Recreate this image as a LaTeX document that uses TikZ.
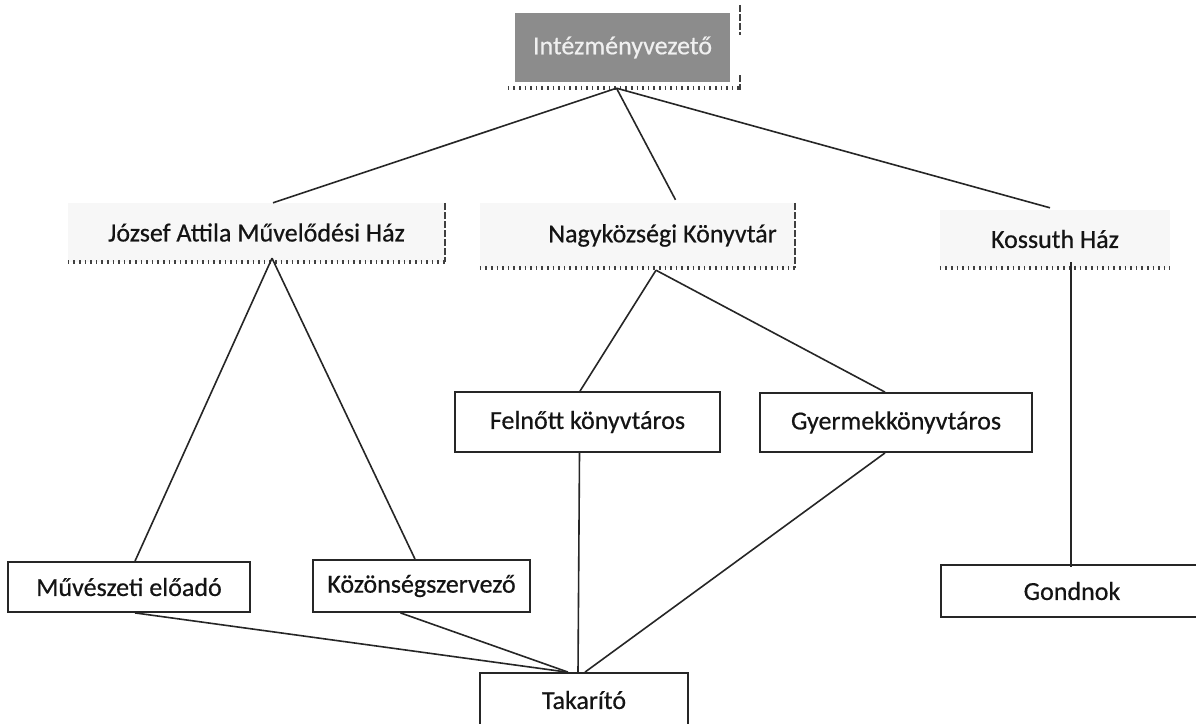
\documentclass[tikz,border=0pt]{standalone}
\usepackage{fontspec}
\setmainfont{Carlito}[FakeBold=0.5]
\usetikzlibrary{calc}
\begin{document}
\begin{tikzpicture}[x=1pt,y=-1pt,
  box/.style={draw=black!85, line width=1.8pt, fill=white, inner sep=0pt, font=\fontsize{26}{30}\selectfont, text=black!92},
  unit/.style={fill=gray!6, draw=none, inner sep=0pt, font=\fontsize{26}{30}\selectfont, text=black!92},
  head/.style={fill=black!45, draw=none, inner sep=0pt, font=\fontsize{26}{30}\selectfont, text=white!88!gray},
  link/.style={line width=1.6pt, draw=black!85},
  dots/.style={line width=4pt, dash pattern=on 1.6pt off 4pt, draw=black!75},
  edgemark/.style={line width=1.8pt, dash pattern=on 7pt off 2pt, draw=black!75}]
\useasboundingbox (0,0) rectangle (1196,723);
\clip (0,0) rectangle (1196,723);
\fill[white] (0,0) rectangle (1196,723);

% head
\node[head, minimum width=215pt, minimum height=69pt] (top) at (622.5,47.5) {Intézményvezető};
\draw[dots] ($(top.south west)+(-7,6)$) -- ($(top.south east)+(12,6)$);
\draw[edgemark] ($(top.north east)+(10,-8)$) -- ($(top.north east)+(10,22)$);
\draw[edgemark] ($(top.south east)+(10,-7)$) -- ($(top.south east)+(10,8)$);

% units
\node[unit, minimum width=377pt, minimum height=59pt] (jamh) at (256.5,232.5) {József Attila Művelődési Ház};
\node[unit, minimum width=315pt, minimum height=65pt] (nagy) at (637.5,235.5) {\hspace*{50pt}Nagyközségi Könyvtár};
\node[unit, minimum width=230pt, minimum height=58pt] (koss) at (1055,239) {Kossuth Ház};
\draw[dots] (jamh.south west) -- (jamh.south east);
\draw[dots] (nagy.south west) -- (nagy.south east);
\draw[dots] (koss.south west) -- (koss.south east);
\draw[edgemark] (jamh.north east) -- (jamh.south east);
\draw[edgemark] (nagy.north east) -- (nagy.south east);

% staff
\node[box, minimum width=265pt, minimum height=60pt] (felnott) at (587.5,422) {Felnőtt könyvtáros};
\node[box, minimum width=272pt, minimum height=59pt] (gyermek) at (896,422.5) {Gyermekkönyvtáros};
\node[box, minimum width=242pt, minimum height=50pt] (muv) at (129,587) {Művészeti előadó};
\node[box, minimum width=217pt, minimum height=52pt] (kozon) at (421.5,586) {Közönségszervező};
\node[box, minimum width=262pt, minimum height=52pt] (gond) at (1072,591) {Gondnok};
\node[box, minimum width=208pt, minimum height=54pt] (tak) at (584,700) {Takarító};

% connectors
\coordinate (topA) at ($(top.south)+(-6,6)$);
\draw[link] (topA) -- ($(jamh.north)+(16.5,0)$);
\draw[link] (topA) -- ($(nagy.north)+(38,-3)$);
\draw[link] (topA) -- ($(koss.north)+(-5,-2)$);

\coordinate (jamhA) at ($(jamh.south)+(15.5,-4)$);
\draw[link] (jamhA) -- ($(muv.north)+(6,0)$);
\draw[link] (jamhA) -- ($(kozon.north)+(-6.5,0)$);

\coordinate (nagyA) at ($(nagy.south)+(18.5,2)$);
\draw[link] (nagyA) -- ($(felnott.north)+(-7.5,0)$);
\draw[link] (nagyA) -- ($(gyermek.north)+(-11,0)$);

\draw[link] ($(koss.south)+(16,-6)$) -- ($(gond.north)+(-1,3)$);

\draw[link] ($(muv.south)+(6,0)$) -- ($(tak.north)+(-17,0)$);
\draw[link] ($(kozon.south)+(-21,0)$) -- ($(tak.north)+(-16,0)$);
\draw[link] ($(felnott.south)+(-8,0)$) -- ($(tak.north)+(-6,0)$);
\draw[link] ($(gyermek.south)+(-11,0)$) -- ($(tak.north)+(1,0)$);
\end{tikzpicture}
\end{document}
